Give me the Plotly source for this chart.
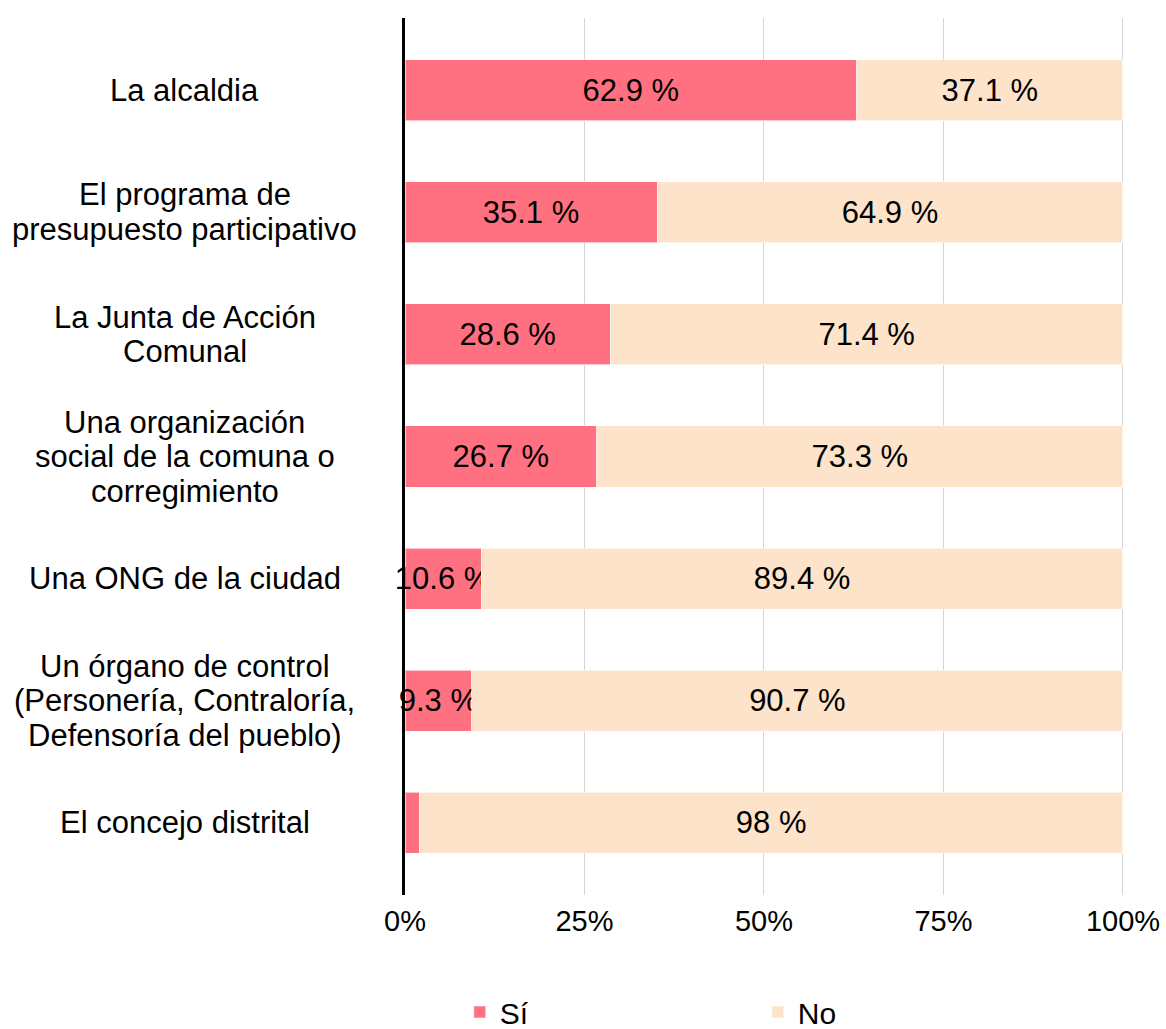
import plotly.graph_objects as go

categories = [
    "La alcaldia",
    "El programa de<br>presupuesto participativo",
    "La Junta de Acción<br>Comunal",
    "Una organización<br>social de la comuna o<br>corregimiento",
    "Una ONG de la ciudad",
    "Un órgano de control<br>(Personería, Contraloría,<br>Defensoría del pueblo)",
    "El concejo distrital",
]
si_values = [62.9, 35.1, 28.6, 26.7, 10.6, 9.3, 2.0]
no_values = [37.1, 64.9, 71.4, 73.3, 89.4, 90.7, 98.0]
series_names = ["Sí", "No"]
x_ticks = [0, 25, 50, 75, 100]
x_tick_labels = [f"{t}%" for t in x_ticks]

FONT = "Liberation Sans, Arial, sans-serif"
SI_COLOR = "#ff7080"
NO_COLOR = "#fce3c9"
LINE_GAP = 34.5


def labels(vals):
    return [f"{v:g} %" if v >= 5 else "" for v in vals]


fig = go.Figure()
for name, vals, color in [(series_names[0], si_values, SI_COLOR),
                          (series_names[1], no_values, NO_COLOR)]:
    fig.add_trace(go.Bar(
        y=categories, x=vals, name=name, orientation="h",
        marker=dict(color=color, line=dict(color="rgba(255,255,255,0.6)", width=1)),
        width=0.5,
        text=labels(vals), textposition="inside", insidetextanchor="middle",
        constraintext="none", textangle=0, cliponaxis=False,
        textfont=dict(family=FONT, size=31, color="black"),
        hoverinfo="x+y+name",
    ))

for c in categories:
    lines = c.split("<br>")
    n = len(lines)
    for i, line in enumerate(lines):
        fig.add_annotation(x=-0.3055, xref="paper", y=c, yref="y", text=line,
                           showarrow=False, align="center", xanchor="center",
                           yanchor="middle", yshift=((n - 1) / 2 - i) * LINE_GAP,
                           font=dict(family=FONT, size=31, color="black"))

fig.update_layout(
    barmode="stack",
    width=1166, height=1029,
    margin=dict(l=405, r=40, t=18, b=134, autoexpand=False),
    plot_bgcolor="white", paper_bgcolor="white",
    font=dict(family=FONT, size=29, color="black"),
    xaxis=dict(range=[0, 100.42], tickmode="array", tickvals=x_ticks,
               ticktext=x_tick_labels,
               showgrid=True, gridcolor="#d4d4d4", gridwidth=1,
               zeroline=False, showline=False, ticks="",
               ticklabelstandoff=6, ticklabeloverflow="allow",
               tickfont=dict(family=FONT, size=29, color="black")),
    yaxis=dict(categoryorder="array", categoryarray=categories,
               range=[6.59, -0.59], showticklabels=False, showgrid=False,
               showline=True, linecolor="black", linewidth=3, zeroline=False,
               ticks=""),
    legend=dict(orientation="h", x=0.076, y=-0.1334, xanchor="left",
                yanchor="middle", entrywidth=253, entrywidthmode="pixels",
                font=dict(family=FONT, size=30, color="black"),
                traceorder="normal"),
    bargap=0.5,
)

fig.write_html(
    "out.html",
    config={"displayModeBar": False},
    post_script="document.body.style.margin='0';document.body.style.overflow='hidden';",
)
